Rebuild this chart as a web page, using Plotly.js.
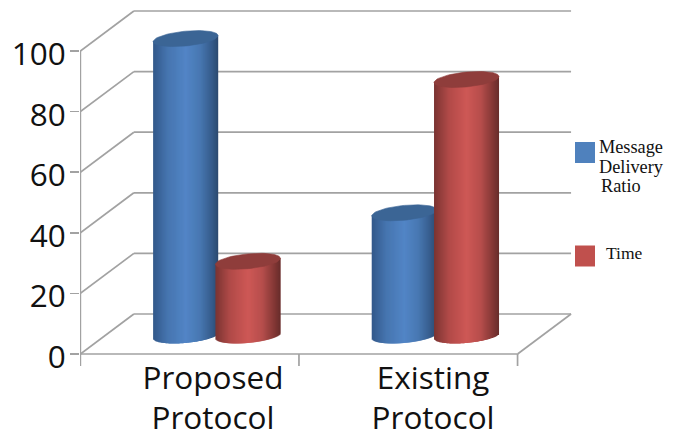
<!DOCTYPE html>
<html>
<head>
<meta charset="utf-8">
<script src="https://cdn.plot.ly/plotly-3.0.1.min.js"></script>
<style>html,body{margin:0;padding:0;background:#fff}#chart{width:680px;height:441px}</style>
</head>
<body>
<div id="chart"></div>
<script>
// Chart data
const categories = ["Proposed<br>Protocol", "Existing<br>Protocol"];
const deliveryRatio = [98, 40.5];
const timeValues = [24.5, 84.5];
const yTicks = [0, 20, 40, 60, 80, 100];
const deliveryLegend = ["Message", "Delivery", "Ratio"];
const timeLegend = ["Time"];

// Shading stops across a cylinder, from its left edge to its right edge
const blueStops = [[0, [50, 88, 138]], [0.22, [70, 117, 175]], [0.5, [82, 133, 198]], [0.72, [72, 120, 178]], [0.9, [54, 92, 140]], [1, [44, 74, 112]]];
const redStops = [[0, [122, 52, 50]], [0.22, [176, 74, 72]], [0.5, [206, 88, 86]], [0.72, [182, 78, 76]], [0.9, [132, 56, 54]], [1, [104, 44, 42]]];
const blueCap = "#3b6595";
const redCap = "#8f3d3b";

// Projection of the pseudo-3D box, in axis units
const groupSpan = 218.6;
const unitPx = 3.03;
const depthX = 53.5 / groupSpan;
const depthY = 40 / unitPx;
const barDepth = 6.1;          // height of a bar's foot above the front floor edge
const halfWidth = 32.5 / groupSpan;
const capTilt = 3 / unitPx;
const capRadius = 7.4 / unitPx;
const frontLeft = -0.6205;
const frontRight = 1.3795;
const barOffsets = [-0.139, 0.146];
const labelPositions = [-0.014, 0.993];
const stripCount = 65;

function shade(stops, f) {
  for (let i = 1; i < stops.length; i++) {
    if (f <= stops[i][0]) {
      const a = stops[i - 1], b = stops[i], k = (f - a[0]) / (b[0] - a[0]);
      const c = a[1].map((v, j) => Math.round(v + (b[1][j] - v) * k));
      return "rgb(" + c.join(",") + ")";
    }
  }
  return "rgb(" + stops[stops.length - 1][1].join(",") + ")";
}

// One cylinder: a body of overlapping thin bars under a filled elliptical cap.
// Each strip runs on under its right neighbour, which hides the seams between them.
function cylinder(center, value, stops, capColor, xa, ya, name) {
  const xs = [], bases = [], heights = [], colors = [], widths = [];
  const top = barDepth + value;
  const step = 2 * halfWidth / stripCount;
  for (let k = 0; k < stripCount; k++) {
    const t = (k + 0.5) / stripCount * 2 - 1;
    const foot = barDepth + capTilt * t - capRadius * Math.sqrt(1 - t * t);
    xs.push(center - halfWidth + k * step);
    widths.push(k === stripCount - 1 ? step : 2 * step);
    bases.push(foot);
    heights.push(top + capTilt * t - foot);
    colors.push(shade(stops, (t + 1) / 2));
  }
  const body = {
    type: "bar", x: xs, y: heights, base: bases, xaxis: xa, yaxis: ya,
    width: widths, offset: 0, name: name,
    marker: {color: colors, opacity: 1, line: {width: 0}}, hoverinfo: "skip", showlegend: false
  };
  const cx = [], cy = [];
  for (let a = 0; a <= 72; a++) {
    const th = a / 72 * 2 * Math.PI, c = Math.cos(th);
    cx.push(center + halfWidth * c);
    cy.push(top + capTilt * c + capRadius * Math.sin(th));
  }
  const cap = {
    type: "scatter", mode: "lines", x: cx, y: cy, xaxis: xa, yaxis: ya, fill: "toself",
    fillcolor: capColor, line: {width: 0.6, color: capColor}, hoverinfo: "skip", showlegend: false
  };
  return [body, cap];
}

const traces = [];
categories.forEach((c, i) => {
  traces.push(...cylinder(i + barOffsets[0], deliveryRatio[i], blueStops, blueCap, "x", "y", "Message Delivery Ratio"));
});
// The second series sits on an overlaid subplot so it stays in front of the first
categories.forEach((c, i) => {
  traces.push(...cylinder(i + barOffsets[1], timeValues[i], redStops, redCap, "x2", "y2", "Time"));
});

// Walls and floor of the box, drawn beneath the bars
const wall = {color: "#a2a2a2", width: 1.7};
const seg = (x0, y0, x1, y1) => ({type: "line", xref: "x", yref: "y", x0, y0, x1, y1, layer: "below", line: wall});
const shapes = [];
yTicks.forEach(v => {
  shapes.push(seg(frontLeft, v, frontLeft + depthX, v + depthY));
  shapes.push(seg(frontLeft + depthX, v + depthY, frontRight + depthX, v + depthY));
});
shapes.push(seg(frontLeft, -3.96, frontLeft, 100));
shapes.push(seg(frontLeft, 0, frontRight, 0));
shapes.push(seg(frontRight, 0, frontRight + depthX, depthY));
shapes.push(seg(frontLeft + 1, -3.96, frontLeft + 1, 0));
shapes.push(seg(frontRight, -3.96, frontRight, 0));

// Legend: swatches and hand-spaced text lines placed in page pixels
const plot = {l: 80, r: 108, t: 10, b: 73};
const paperX = px => (px - plot.l) / (680 - plot.l - plot.r);
const paperY = px => 1 - (px - plot.t) / (441 - plot.t - plot.b);
const swatch = (x0, y0, x1, y1, color) => ({
  type: "rect", xref: "paper", yref: "paper", x0: paperX(x0), x1: paperX(x1), y0: paperY(y1), y1: paperY(y0),
  fillcolor: color, line: {width: 0}
});
shapes.push(swatch(575, 142, 595, 163, "#4f81bd"));
shapes.push(swatch(575, 245.5, 595, 266.5, "#c0504d"));

const legendText = (text, x, y, size) => ({
  text, xref: "paper", yref: "paper", x: paperX(x), y: paperY(y), xanchor: "left", yanchor: "middle",
  showarrow: false, borderpad: 0, font: {family: "Liberation Serif, serif", size, color: "#111"}
});
const annotations = [
  legendText(deliveryLegend[0], 598, 146.5, 18.3),
  legendText(deliveryLegend[1], 598, 166.5, 18.3),
  legendText(deliveryLegend[2], 600, 186, 18.3),
  legendText(timeLegend[0], 605, 252.5, 17.5)
];

const xRange = [(plot.l - 216) / groupSpan, (572 - 216) / groupSpan];
const yRange = [-(368 - 354) / unitPx, (354 - 10) / unitPx];
const tickFont = {family: "Open Sans, sans-serif", size: 31.5, color: "#111"};

Plotly.newPlot("chart", traces, {
  width: 680, height: 441,
  margin: plot,
  paper_bgcolor: "#fff", plot_bgcolor: "#fff",
  barmode: "overlay",
  showlegend: false,
  shapes, annotations,
  xaxis: {
    range: xRange, tickmode: "array", tickvals: labelPositions, ticktext: categories,
    tickfont: tickFont, showgrid: false, zeroline: false, showline: false, ticks: "", tickangle: 0,
    ticklabelstandoff: -12
  },
  yaxis: {
    range: yRange, tickmode: "array", tickvals: yTicks, ticktext: yTicks.map(String),
    tickfont: tickFont, showgrid: false, zeroline: false, showline: false,
    ticks: "outside", ticklen: 9, tickwidth: 1.7, tickcolor: "#a2a2a2",
    ticklabelstandoff: -2, ticklabelshift: 3
  },
  xaxis2: {range: xRange, overlaying: "x", visible: false},
  yaxis2: {range: yRange, overlaying: "y", visible: false}
}, {displayModeBar: false, staticPlot: true});
</script>
</body>
</html>
